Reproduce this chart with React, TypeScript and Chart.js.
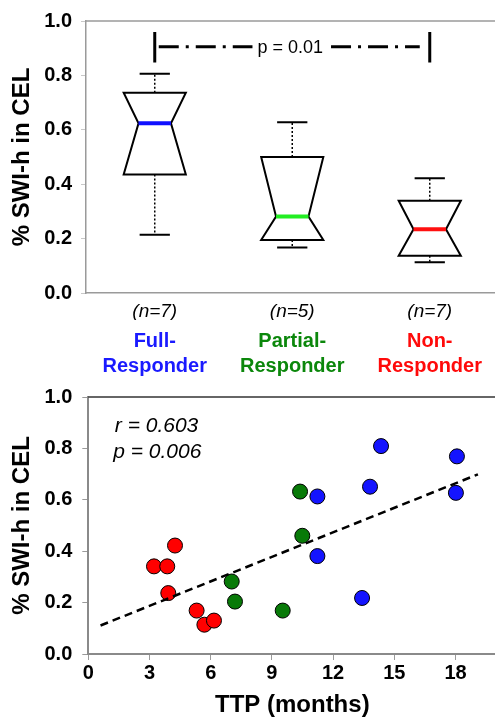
import React, { useEffect, useRef } from "react";
import { Chart, registerables } from "chart.js";

Chart.register(...registerables);

const FONT = '"Liberation Sans", Arial, Helvetica, sans-serif';

// ---- Top panel: notched box plots ----
const groupNames = [["Full-", "Responder"], ["Partial-", "Responder"], ["Non-", "Responder"]];
const groupCounts = ["(n=7)", "(n=5)", "(n=7)"];
const groupColors = ["#1a1aff", "#0b870b", "#ff0a0a"];
const medianColors = ["#1010ff", "#22ee22", "#ff1010"];
const boxLow = [0.214, 0.167, 0.113];
const boxQ1 = [0.436, 0.195, 0.137];
const boxMed = [0.624, 0.281, 0.234];
const boxQ3 = [0.736, 0.5, 0.339];
const boxHigh = [0.806, 0.628, 0.422];
const pText = "p = 0.01";
const yTicks = [0, 0.2, 0.4, 0.6, 0.8, 1.0];

// ---- Bottom panel: scatter ----
const fullTTP = [11.23, 11.23, 13.42, 13.81, 14.35, 18.07, 18.02];
const fullSWI = [0.613, 0.381, 0.218, 0.651, 0.809, 0.769, 0.627];
const partialTTP = [7.03, 7.19, 9.53, 10.38, 10.49];
const partialSWI = [0.282, 0.204, 0.169, 0.632, 0.46];
const nonTTP = [3.22, 3.87, 4.25, 3.92, 5.31, 5.69, 6.16];
const nonSWI = [0.341, 0.341, 0.422, 0.237, 0.169, 0.114, 0.13];
const trendX = [0.6, 19.1];
const trendY = [0.111, 0.699];
const xTicks = [0, 3, 6, 9, 12, 15, 18];
const statLines = ["r = 0.603", "p = 0.006"];

const pts = (xs: number[], ys: number[]) => xs.map((v, i) => ({ x: v, y: ys[i] }));

const boxPlugin = {
  id: "notchedBoxes",
  afterDatasetsDraw(chart: any) {
    const { ctx, chartArea } = chart;
    const x = chart.scales.x;
    const y = chart.scales.y;
    const step = x.getPixelForValue(1) - x.getPixelForValue(0);
    const hw = step * 0.226;
    const nw = step * 0.118;
    const cw = step * 0.11;
    ctx.save();
    // top frame line
    ctx.strokeStyle = "#9a9a9a";
    ctx.lineWidth = 1.5;
    ctx.beginPath();
    ctx.moveTo(chartArea.left, chartArea.top);
    ctx.lineTo(chartArea.right, chartArea.top);
    ctx.stroke();
    for (let i = 0; i < boxMed.length; i++) {
      const cx = x.getPixelForValue(i);
      const yl = y.getPixelForValue(boxLow[i]);
      const y1 = y.getPixelForValue(boxQ1[i]);
      const ym = y.getPixelForValue(boxMed[i]);
      const y3 = y.getPixelForValue(boxQ3[i]);
      const yh = y.getPixelForValue(boxHigh[i]);
      ctx.strokeStyle = "#000";
      ctx.lineWidth = 1.5;
      ctx.setLineDash([2, 2]);
      ctx.beginPath();
      ctx.moveTo(cx, y3);
      ctx.lineTo(cx, yh);
      ctx.moveTo(cx, y1);
      ctx.lineTo(cx, yl);
      ctx.stroke();
      ctx.setLineDash([]);
      ctx.lineWidth = 2;
      ctx.beginPath();
      ctx.moveTo(cx - cw, yh);
      ctx.lineTo(cx + cw, yh);
      ctx.moveTo(cx - cw, yl);
      ctx.lineTo(cx + cw, yl);
      ctx.stroke();
      ctx.beginPath();
      ctx.moveTo(cx - hw, y3);
      ctx.lineTo(cx + hw, y3);
      ctx.lineTo(cx + nw, ym);
      ctx.lineTo(cx + hw, y1);
      ctx.lineTo(cx - hw, y1);
      ctx.lineTo(cx - nw, ym);
      ctx.closePath();
      ctx.stroke();
      ctx.strokeStyle = medianColors[i];
      ctx.lineWidth = 4;
      ctx.beginPath();
      ctx.moveTo(cx - nw, ym);
      ctx.lineTo(cx + nw, ym);
      ctx.stroke();
    }
    // significance bracket
    const xl = x.getPixelForValue(0);
    const xr = x.getPixelForValue(2);
    const by = y.getPixelForValue(0.905);
    const bt = y.getPixelForValue(0.96);
    const bb = y.getPixelForValue(0.847);
    ctx.strokeStyle = "#000";
    ctx.lineWidth = 3;
    ctx.beginPath();
    ctx.moveTo(xl, bt);
    ctx.lineTo(xl, bb);
    ctx.moveTo(xr, bt);
    ctx.lineTo(xr, bb);
    ctx.stroke();
    ctx.font = `18px ${FONT}`;
    ctx.fillStyle = "#000";
    ctx.textAlign = "center";
    ctx.textBaseline = "middle";
    const mid = (xl + xr) / 2 - 2;
    const tw = ctx.measureText(pText).width;
    ctx.fillText(pText, mid, by + 1);
    ctx.setLineDash([20, 7, 3, 7]);
    ctx.beginPath();
    ctx.moveTo(xl + 4, by);
    ctx.lineTo(mid - tw / 2 - 5, by);
    ctx.stroke();
    ctx.beginPath();
    ctx.moveTo(mid + tw / 2 + 8, by);
    ctx.lineTo(xr - 10, by);
    ctx.stroke();
    ctx.restore();
  },
};

const scatterPlugin = {
  id: "scatterExtras",
  afterDraw(chart: any) {
    const { ctx, chartArea } = chart;
    const x = chart.scales.x;
    const y = chart.scales.y;
    ctx.save();
    ctx.strokeStyle = "#333";
    ctx.lineWidth = 1.5;
    ctx.beginPath();
    ctx.moveTo(chartArea.left, chartArea.top);
    ctx.lineTo(chartArea.right, chartArea.top);
    ctx.stroke();
    ctx.font = `italic 21px ${FONT}`;
    ctx.fillStyle = "#000";
    ctx.textAlign = "left";
    ctx.textBaseline = "middle";
    ctx.fillText(statLines[0], x.getPixelForValue(1.3), y.getPixelForValue(0.888));
    ctx.fillText(statLines[1], x.getPixelForValue(1.22), y.getPixelForValue(0.785));
    ctx.restore();
  },
};

const yTitleFont = { family: FONT, size: 24, weight: "bold", lineHeight: 1.2 };
const yTickFont = { family: FONT, size: 20, weight: "bold" };

export default function App() {
  const topRef = useRef<HTMLCanvasElement>(null);
  const botRef = useRef<HTMLCanvasElement>(null);

  useEffect(() => {
    const top = new Chart(topRef.current!, {
      type: "bar",
      data: {
        labels: groupCounts,
        datasets: [
          {
            data: boxQ1.map((v, i) => [v, boxQ3[i]]) as any,
            backgroundColor: "rgba(0,0,0,0)",
            borderWidth: 0,
          },
        ],
      },
      options: {
        responsive: false,
        animation: false,
        events: [],
        layout: { padding: { top: 16, right: 6.5, left: 0, bottom: 0 } },
        plugins: { legend: { display: false }, tooltip: { enabled: false } },
        scales: {
          x: {
            type: "category",
            offset: true,
            weight: 0,
            grid: { drawOnChartArea: false, drawTicks: false },
            border: { color: "#9a9a9a", width: 1.5 },
            ticks: {
              padding: 7.6,
              color: "#000",
              font: { family: FONT, size: 19, style: "italic", lineHeight: 1.2 },
            },
            afterFit: (s: any) => { s.height = 27; },
          },
          x2: {
            type: "category",
            position: "bottom",
            labels: groupNames as any,
            offset: true,
            weight: 1,
            grid: { display: false },
            border: { display: false },
            ticks: {
              padding: 0.5,
              color: (c: any) => groupColors[c.index],
              font: { family: FONT, size: 20, weight: "bold", lineHeight: 1.25 },
            },
            afterFit: (s: any) => { s.height = 60; },
          },
          y: {
            min: 0,
            max: 1,
            afterBuildTicks: (s: any) => { s.ticks = yTicks.map((v) => ({ value: v })); },
            grid: { drawOnChartArea: false, tickLength: 5, color: "#c8c8c8" },
            border: { color: "#9a9a9a", width: 1.5 },
            ticks: {
              padding: 9,
              color: "#000",
              callback: (v: any) => Number(v).toFixed(1),
              font: yTickFont,
            },
            title: {
              display: true,
              text: "% SWI-h in CEL",
              color: "#000",
              padding: { top: 7.6, bottom: 0 },
              font: yTitleFont,
            },
            afterFit: (s: any) => { s.width = 86; },
          },
        },
      } as any,
      plugins: [boxPlugin],
    });

    const bot = new Chart(botRef.current!, {
      type: "scatter",
      data: {
        datasets: [
          {
            type: "line",
            data: pts(trendX, trendY),
            borderColor: "#000",
            borderWidth: 2.5,
            borderDash: [8, 5],
            pointRadius: 0,
            fill: false,
            order: 0,
          } as any,
          {
            data: pts(nonTTP, nonSWI),
            backgroundColor: "#ff0000",
            borderColor: "#000",
            borderWidth: 1,
            pointRadius: 7.5,
            order: 1,
          },
          {
            data: pts(partialTTP, partialSWI),
            backgroundColor: "#087a08",
            borderColor: "#000",
            borderWidth: 1,
            pointRadius: 7.5,
            order: 1,
          },
          {
            data: pts(fullTTP, fullSWI),
            backgroundColor: "#1414ff",
            borderColor: "#000",
            borderWidth: 1,
            pointRadius: 7.5,
            order: 1,
          },
        ],
      },
      options: {
        responsive: false,
        animation: false,
        events: [],
        layout: { padding: { top: 19, right: 8.7, left: 0, bottom: 0 } },
        plugins: { legend: { display: false }, tooltip: { enabled: false } },
        scales: {
          x: {
            type: "linear",
            min: 0,
            max: 20,
            afterBuildTicks: (s: any) => { s.ticks = xTicks.map((v) => ({ value: v })); },
            grid: { drawOnChartArea: false, tickLength: 6, color: "#9a9a9a" },
            border: { color: "#8a8a8a", width: 2 },
            ticks: {
              padding: 1,
              color: "#000",
              font: { family: FONT, size: 20, weight: "bold", lineHeight: 1.2 },
            },
            title: {
              display: true,
              text: "TTP (months)",
              color: "#000",
              padding: { top: 0, bottom: 0 },
              font: { family: FONT, size: 24, weight: "bold", lineHeight: 1.0 },
            },
            afterFit: (s: any) => { s.height = 63; },
          },
          y: {
            min: 0,
            max: 1,
            afterBuildTicks: (s: any) => { s.ticks = yTicks.map((v) => ({ value: v })); },
            grid: { drawOnChartArea: false, tickLength: 6, color: "#9a9a9a" },
            border: { color: "#8a8a8a", width: 2 },
            ticks: {
              padding: 10,
              color: "#000",
              callback: (v: any) => Number(v).toFixed(1),
              font: yTickFont,
            },
            title: {
              display: true,
              text: "% SWI-h in CEL",
              color: "#000",
              padding: { top: 7.6, bottom: 0 },
              font: yTitleFont,
            },
            afterFit: (s: any) => { s.width = 88.3; },
          },
        },
      } as any,
      plugins: [scatterPlugin],
    });

    return () => {
      top.destroy();
      bot.destroy();
    };
  }, []);

  return (
    <div
      style={{
        position: "fixed",
        left: 0,
        top: 0,
        width: 495,
        height: 717,
        overflow: "hidden",
        background: "#fff",
      }}
    >
      <canvas
        ref={topRef}
        width={505}
        height={380}
        style={{ position: "absolute", left: 0, top: 0, display: "block" }}
      />
      <canvas
        ref={botRef}
        width={505}
        height={342}
        style={{ position: "absolute", left: 0, top: 375, display: "block" }}
      />
    </div>
  );
}
